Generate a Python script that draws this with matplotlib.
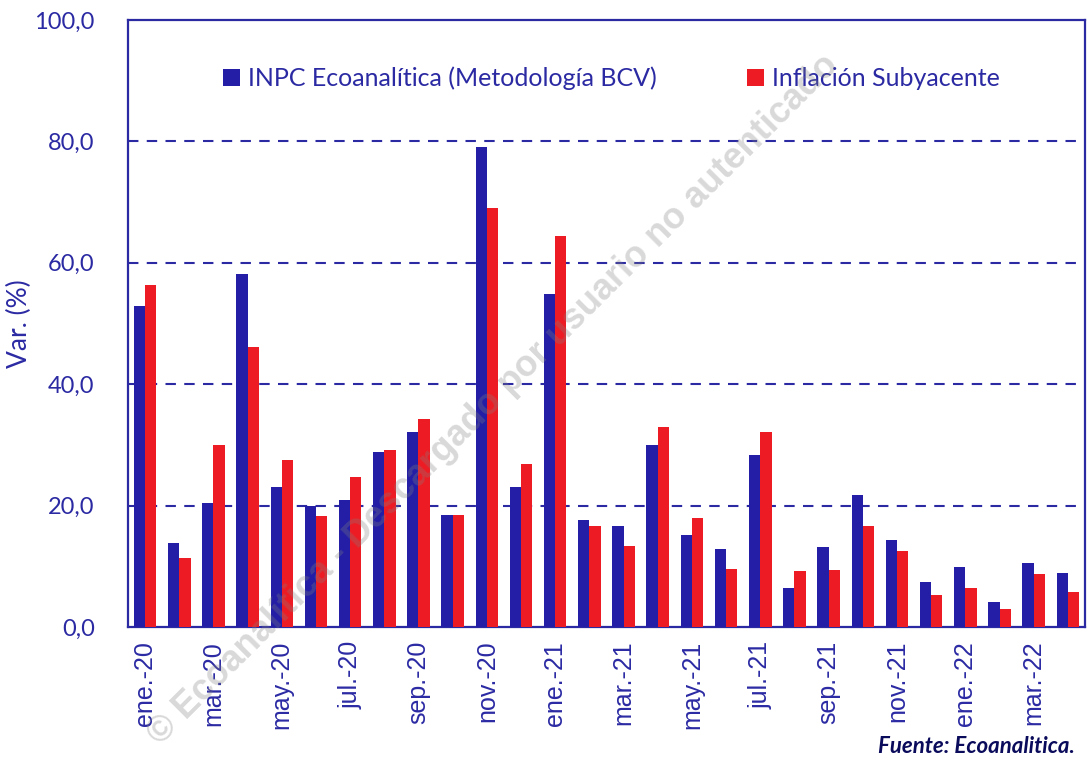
import matplotlib
matplotlib.use("Agg")
import matplotlib.pyplot as plt
import numpy as np

months = ["ene.-20", "feb.-20", "mar.-20", "abr.-20", "may.-20", "jun.-20", "jul.-20",
          "ago.-20", "sep.-20", "oct.-20", "nov.-20", "dic.-20", "ene.-21", "feb.-21",
          "mar.-21", "abr.-21", "may.-21", "jun.-21", "jul.-21", "ago.-21", "sep.-21",
          "oct.-21", "nov.-21", "dic.-21", "ene.-22", "feb.-22", "mar.-22", "abr.-22"]
inpc = [52.9, 13.9, 20.4, 58.2, 23.0, 20.0, 20.9, 28.8, 32.1, 18.4,
        79.0, 23.1, 54.9, 17.7, 16.7, 29.9, 15.1, 12.8, 28.4, 6.5,
        13.1, 21.8, 14.3, 7.4, 9.8, 4.1, 10.5, 8.9]
subyacente = [56.3, 11.3, 29.9, 46.1, 27.5, 18.2, 24.7, 29.2, 34.3, 18.4,
              69.1, 26.8, 64.4, 16.7, 13.3, 33.0, 18.0, 9.6, 32.1, 9.3,
              9.4, 16.7, 12.5, 5.2, 6.5, 3.0, 8.7, 5.8]
series_names = ["INPC Ecoanalítica (Metodología BCV)", "Inflación Subyacente"]
yticks = [0, 20, 40, 60, 80, 100]
ytick_labels = ["0,0", "20,0", "40,0", "60,0", "80,0", "100,0"]

BLUE = "#231ea5"
RED = "#ed1c24"
AX = "#2b2aa3"

fig = plt.figure(figsize=(10.91, 7.69), dpi=100)
ax = fig.add_axes([0.1173, 0.1847, 0.8772, 0.7893])

x = np.arange(len(months))
w = 0.33
ax.bar(x - w / 2, inpc, width=w, color=BLUE, label=series_names[0], zorder=3)
ax.bar(x + w / 2, subyacente, width=w, color=RED, label=series_names[1], zorder=3)

ax.set_xlim(-0.5, len(months) - 0.5)
ax.set_ylim(0, 100)
ax.set_yticks(yticks)
ax.set_yticklabels(ytick_labels, fontsize=17, color=AX, family="Lato")
ax.set_xticks(x[::2])
ax.set_xticklabels(months[::2], rotation=90, fontsize=18, color=AX,
                   family="Liberation Sans")
ax.tick_params(axis="both", length=0, pad=10)
ax.tick_params(axis="y", pad=24)
for y in yticks[1:-1]:
    ax.axhline(y, color=AX, lw=1.5, ls=(0, (5, 4)), zorder=1)
for s in ax.spines.values():
    s.set_color(AX)
    s.set_linewidth(1.6)

ax.set_ylabel("Var. (%)", fontsize=19, color=AX, family="Lato")
ax.yaxis.set_label_coords(-0.1, 0.5)

leg = ax.legend(loc="upper center", bbox_to_anchor=(0.505, 0.96), ncol=2, frameon=False,
                prop={"family": "Lato", "size": 18}, handlelength=0.7, handleheight=0.7,
                handletextpad=0.3, columnspacing=3.6)
for t in leg.get_texts():
    t.set_color(AX)

fig.text(0.452, 0.48, "© Ecoanalítica - Descargado por usuario no autenticado",
         rotation=45, fontsize=26, fontweight="bold", color="gray", alpha=0.3,
         ha="center", va="center", family="Liberation Sans", rotation_mode="anchor")

fig.text(0.985, 0.016, "Fuente: Ecoanalitica.", ha="right", va="bottom", fontsize=16,
         fontweight="bold", style="italic", color="#0b0b5c", family="Lato")

fig.savefig("out.png", dpi=100)
